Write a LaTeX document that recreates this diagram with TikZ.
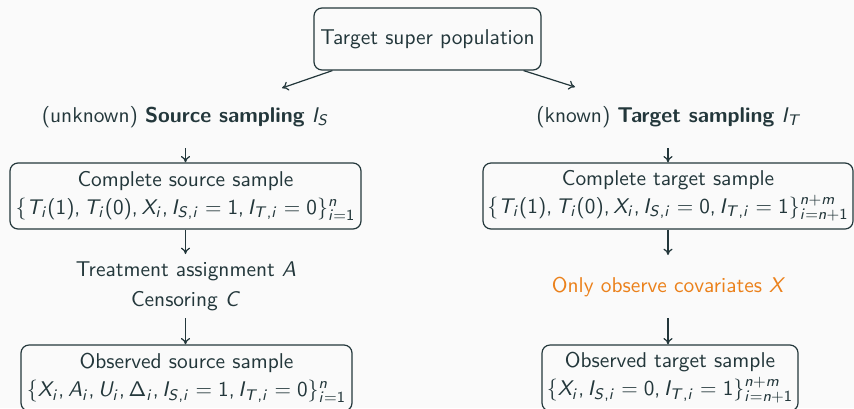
\documentclass[tikz,border=0pt]{standalone}
\usetikzlibrary{arrows.meta}
% sans-serif math: cmss faces at freely scalable sizes
\DeclareFontFamily{OT1}{sfmath}{}
\DeclareFontShape{OT1}{sfmath}{m}{n}{<-9> cmss8 <9-> cmss10}{}
\DeclareFontShape{OT1}{sfmath}{m}{sl}{<-9> cmssi8 <9-> cmssi10}{}
\DeclareSymbolFont{sfop}{OT1}{sfmath}{m}{n}
\DeclareSymbolFont{sfit}{OT1}{sfmath}{m}{sl}
\SetSymbolFont{operators}{normal}{OT1}{sfmath}{m}{n}
\DeclareMathSymbol{A}{\mathalpha}{sfit}{`A}
\DeclareMathSymbol{C}{\mathalpha}{sfit}{`C}
\DeclareMathSymbol{I}{\mathalpha}{sfit}{`I}
\DeclareMathSymbol{S}{\mathalpha}{sfit}{`S}
\DeclareMathSymbol{T}{\mathalpha}{sfit}{`T}
\DeclareMathSymbol{U}{\mathalpha}{sfit}{`U}
\DeclareMathSymbol{X}{\mathalpha}{sfit}{`X}
\DeclareMathSymbol{i}{\mathalpha}{sfit}{`i}
\DeclareMathSymbol{m}{\mathalpha}{sfit}{`m}
\DeclareMathSymbol{n}{\mathalpha}{sfit}{`n}
\DeclareMathSymbol{,}{\mathpunct}{sfop}{`,}
\DeclareMathSizes{10.7}{10.6}{7.7}{5.8}
\definecolor{mdark}{HTML}{23373B}
\definecolor{morange}{HTML}{EB811B}
\definecolor{mbg}{HTML}{FAFAFA}
\tikzset{
  box/.style={draw=mdark, rounded corners=4pt, line width=0.6pt, align=center, inner xsep=1pt, inner ysep=2pt},
  lbl/.style={align=center, inner sep=1pt},
  flow/.style={-{To[length=3.2pt,width=4.6pt]}, draw=mdark, line width=0.6pt},
}
\begin{document}
\begin{tikzpicture}[x=0.5pt, y=-0.5pt, font=\sffamily\fontsize{10.7}{13}\selectfont, text=mdark]
  \useasboundingbox (0,0) rectangle (854,408);
  \fill[mbg] (0,0) rectangle (854,408);
  \clip (0,0) rectangle (854,408);

  % population and the two sampling mechanisms
  \node[box, minimum width=113.5pt, minimum height=31pt] (pop) at (427.5,39) {Target super population};
  \node[lbl] (srcs) at (185.5,117) {(unknown) \textbf{Source sampling} $I_S$};
  \node[lbl] (tgts) at (669,117) {(known) \textbf{Target sampling} $I_T$};
  \coordinate (popl) at (282,88);
  \coordinate (popr) at (575,87);
  \draw[flow] ([xshift=9.5pt]pop.south west) -- (popl);
  \draw[flow] ([xshift=-9pt]pop.south east) -- (popr);

  % complete samples
  \node[box, minimum width=175.5pt, minimum height=33pt] (csrc) at (185.5,196)
    {Complete source sample\\[1pt] $\{T_i(1), T_i(0), X_i, I_{S,i} = 1, I_{T,i} = 0\}_{i=1}^{n}$};
  \node[box, minimum width=185pt, minimum height=33pt] (ctgt) at (668,196)
    {Complete target sample\\[1pt] $\{T_i(1), T_i(0), X_i, I_{S,i} = 0, I_{T,i} = 1\}_{i=n+1}^{n+m}$};
  \coordinate (sa) at (185.5,148);
  \coordinate (ta) at (668,148);
  \draw[flow] (sa) -- (csrc.north);
  \draw[flow] (ta) -- (ctgt.north);

  % mechanisms between complete and observed samples
  \node[lbl] (mech) at (186,286) {Treatment assignment $A$\\[2pt] Censoring $C$};
  \node[lbl, text=morange] (cov) at (669,287) {Only observe covariates $X$};
  \coordinate (sb) at (185.5,254);
  \coordinate (tb) at (668,255);
  \coordinate (sc) at (185.5,318);
  \coordinate (tc) at (668,318);
  \draw[flow] (csrc.south) -- (sb);
  \draw[flow] (ctgt.south) -- (tb);

  % observed samples
  \node[box, minimum width=165.5pt, minimum height=33pt] (osrc) at (186.5,378)
    {Observed source sample\\[1pt] $\{X_i, A_i, U_i, \Delta_i, I_{S,i} = 1, I_{T,i} = 0\}_{i=1}^{n}$};
  \node[box, minimum width=128pt, minimum height=33pt] (otgt) at (670,378)
    {Observed target sample\\[1pt] $\{X_i, I_{S,i} = 0, I_{T,i} = 1\}_{i=n+1}^{n+m}$};
  \draw[flow] (sc) -- (sc |- osrc.north);
  \draw[flow] (tc) -- (tc |- otgt.north);
\end{tikzpicture}
\end{document}
